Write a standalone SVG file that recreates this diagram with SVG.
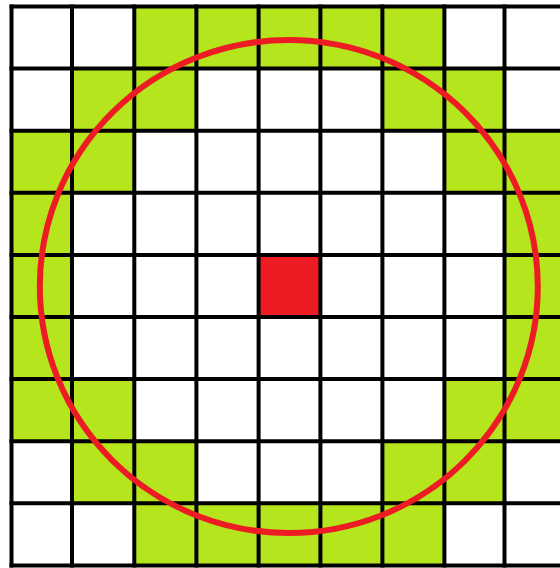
<svg xmlns="http://www.w3.org/2000/svg" width="560" height="568" viewBox="0 0 560 568">
  <style>
    .g { fill: #b5e61d; }
    .grid { stroke: #000; stroke-width: 4; fill: none; stroke-linecap: square; }
  </style>
  <rect width="560" height="568" fill="#fff"/>
  <g id="green-cells">
    <rect class="g" x="134.3" y="6.5" width="310.1" height="62.1"/>
    <rect class="g" x="72" y="68.6" width="124.4" height="62.1"/>
    <rect class="g" x="382.4" y="68.6" width="122.1" height="62.1"/>
    <rect class="g" x="11.5" y="130.7" width="122.8" height="62.1"/>
    <rect class="g" x="444.4" y="130.7" width="122.1" height="62.1"/>
    <rect class="g" x="11.5" y="192.8" width="60.5" height="186.3"/>
    <rect class="g" x="504.5" y="192.8" width="62" height="186.3"/>
    <rect class="g" x="11.5" y="379.1" width="122.8" height="62.1"/>
    <rect class="g" x="444.4" y="379.1" width="122.1" height="62.1"/>
    <rect class="g" x="72" y="441.2" width="124.4" height="62.1"/>
    <rect class="g" x="382.4" y="441.2" width="122.1" height="62.1"/>
    <rect class="g" x="134.3" y="503.3" width="310.1" height="62.1"/>
  </g>
  <g id="center-cell">
    <rect x="258.6" y="254.9" width="61.8" height="62.1" fill="#ed1c24"/>
  </g>
  <g id="grid">
    <path class="grid" d="M11.5 6.5V565.4 M72 6.5V565.4 M134.3 6.5V565.4 M196.4 6.5V565.4 M258.6 6.5V565.4 M320.4 6.5V565.4 M382.4 6.5V565.4 M444.4 6.5V565.4 M504.5 6.5V565.4 M566.5 6.5V565.4"/>
    <path class="grid" d="M11.5 6.5H566.5 M11.5 68.6H566.5 M11.5 130.7H566.5 M11.5 192.8H566.5 M11.5 254.9H566.5 M11.5 317H566.5 M11.5 379.1H566.5 M11.5 441.2H566.5 M11.5 503.3H566.5 M11.5 565.4H566.5"/>
  </g>
  <g id="circle">
    <ellipse cx="288.8" cy="286.5" rx="249" ry="246.5" fill="none" stroke="#ed1c24" stroke-width="6"/>
  </g>
</svg>
